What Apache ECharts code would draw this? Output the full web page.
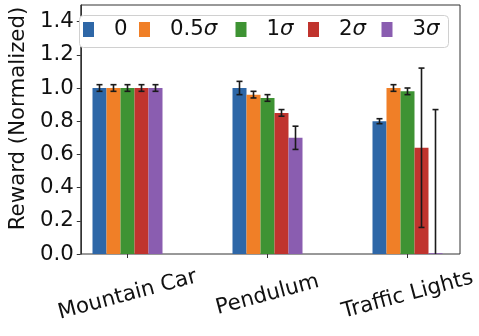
<!DOCTYPE html>
<html>
<head>
<meta charset="utf-8">
<script src="https://cdn.jsdelivr.net/npm/echarts@6/dist/echarts.min.js"></script>
<style>
  html, body { margin: 0; padding: 0; background: #fff; }
  #chart { width: 479px; height: 336px; }
</style>
</head>
<body>
<div id="chart"></div>
<script>
// environments on the x axis
const categories = ['Mountain Car', 'Pendulum', 'Traffic Lights']
// noise levels (legend)
const levels = ['0', '0.5σ', '1σ', '2σ', '3σ']
const colors = ['#2e67a7', '#f07f27', '#3e9333', '#c0342e', '#8a5db0']

// mean normalized reward per level, one value per environment
const mean0 = [1.0, 1.0, 0.80]
const mean05 = [1.0, 0.96, 1.0]
const mean1 = [1.0, 0.94, 0.98]
const mean2 = [1.0, 0.85, 0.64]
const mean3 = [1.0, 0.70, 0.005]

// error bar half-lengths
const err0 = [0.02, 0.04, 0.015]
const err05 = [0.02, 0.02, 0.02]
const err1 = [0.02, 0.02, 0.02]
const err2 = [0.02, 0.02, 0.48]
const err3 = [0.02, 0.07, 0.865]

const yTicks = [0, 0.2, 0.4, 0.6, 0.8, 1.0, 1.2, 1.4]

const means = [mean0, mean05, mean1, mean2, mean3]
const errs = [err0, err05, err1, err2, err3]

const font = 'DejaVu Sans'
const fs = 21.3
// left edge of each legend entry (px), the legend is one row in a framed box
const legendLeft = [83, 139, 235.5, 308, 381.5]
const chart = echarts.init(document.getElementById('chart'))

const barSeries = levels.map((name, i) => ({
  name: name,
  type: 'bar',
  xAxisIndex: 1,
  yAxisIndex: 1,
  barWidth: '10%',
  barGap: '0%',
  itemStyle: { color: colors[i] },
  data: means[i]
}))

// error bars sit over the matching bar inside each group
const errSeries = levels.map((name, i) => ({
  type: 'custom',
  xAxisIndex: 1,
  yAxisIndex: 1,
  clip: true,
  z: 5,
  data: means[i].map((m, c) => [c, m, errs[i][c]]),
  renderItem: (params, api) => {
    const c = api.value(0), m = api.value(1), e = api.value(2)
    const band = api.size([1, 0])[0]
    const hi = api.coord([c, m + e])
    const lo = api.coord([c, m - e])
    const x = hi[0] + (i - 2) * band * 0.1
    const cap = 3
    const style = { stroke: '#1a1a1a', lineWidth: 1.6 }
    return {
      type: 'group',
      children: [
        { type: 'line', shape: { x1: x, y1: hi[1], x2: x, y2: lo[1] }, style },
        { type: 'line', shape: { x1: x - cap, y1: hi[1], x2: x + cap, y2: hi[1] }, style },
        { type: 'line', shape: { x1: x - cap, y1: lo[1], x2: x + cap, y2: lo[1] }, style }
      ]
    }
  }
}))

// one legend per entry so the spacing matches the original
const legends = levels.map((name, i) => ({
  data: [name],
  left: legendLeft[i],
  top: 19,
  itemWidth: 11,
  itemHeight: 15,
  padding: 0,
  icon: 'rect',
  z: 10,
  formatter: n => n.replace('σ', '{i|σ}'),
  textStyle: {
    fontFamily: font,
    fontSize: fs,
    color: '#111',
    padding: [0, 0, 0, 15],
    rich: { i: { fontFamily: font, fontSize: fs, fontStyle: 'italic', color: '#111' } }
  }
}))

chart.setOption({
  animation: false,
  textStyle: { fontFamily: font },
  grid: [
    { left: 75, right: 19, top: 5, bottom: 82, show: true, borderColor: '#333', borderWidth: 1 },
    { left: 57.5, width: 420, top: 5, bottom: 82 }
  ],
  legend: legends,
  graphic: [{
    type: 'rect',
    left: 79,
    top: 15,
    z: 8,
    shape: { width: 369, height: 32, r: 4 },
    style: { fill: '#fff', stroke: '#d0d0d0', lineWidth: 1 }
  }],
  xAxis: [
    { type: 'value', gridIndex: 0, min: 0, max: 1, show: false },
    {
      type: 'category',
      gridIndex: 1,
      data: categories,
      axisLine: { show: false },
      axisTick: { show: true, alignWithLabel: true, length: 4, lineStyle: { color: '#333' } },
      axisLabel: {
        rotate: 15,
        align: 'center',
        verticalAlign: 'middle',
        margin: 41,
        fontFamily: font,
        fontSize: fs,
        color: '#111'
      }
    }
  ],
  yAxis: [
    {
      type: 'value',
      gridIndex: 0,
      min: 0,
      max: 1.5,
      interval: 0.2,
      name: 'Reward (Normalized)',
      nameLocation: 'middle',
      nameGap: 50,
      nameTextStyle: { fontFamily: font, fontSize: fs, color: '#111', padding: [0, 0, 0, 22] },
      splitLine: { show: false },
      axisLine: { show: true, lineStyle: { color: '#333' } },
      axisTick: { show: true, length: 4, lineStyle: { color: '#333' } },
      axisLabel: {
        showMaxLabel: false,
        fontFamily: font,
        fontSize: fs,
        color: '#111',
        margin: 7,
        formatter: v => yTicks.some(t => Math.abs(t - v) < 1e-9) ? v.toFixed(1) : ''
      }
    },
    { type: 'value', gridIndex: 1, min: 0, max: 1.5, show: false }
  ],
  series: barSeries.concat(errSeries)
})
</script>
</body>
</html>
